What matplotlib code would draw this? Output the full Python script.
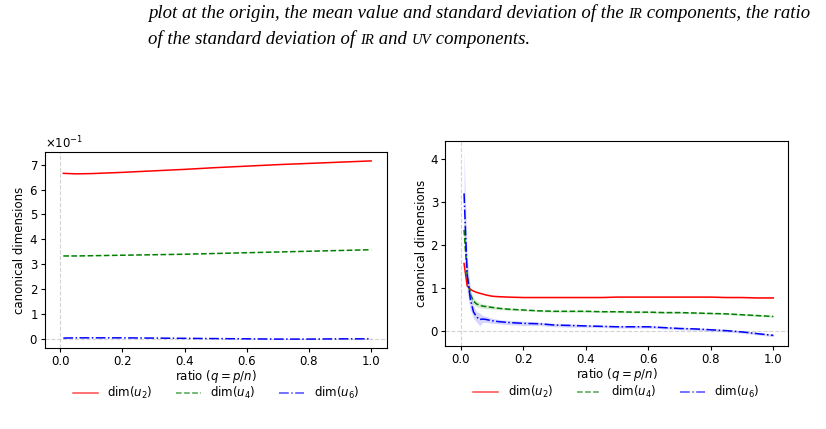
import matplotlib
matplotlib.use("Agg")
import matplotlib.pyplot as plt
import numpy as np

# ---------------- data ----------------
# left panel
q_left = [0.01, 0.05, 0.1, 0.2, 0.3, 0.4, 0.5, 0.6, 0.7, 0.8, 0.9, 1.0]
left_u2 = [0.665, 0.663, 0.664, 0.669, 0.675, 0.681, 0.688, 0.694, 0.700, 0.705, 0.710, 0.715]
left_u4 = [0.333, 0.333, 0.334, 0.336, 0.338, 0.340, 0.343, 0.346, 0.349, 0.352, 0.355, 0.358]
left_u6 = [0.003, 0.004, 0.004, 0.004, 0.003, 0.002, 0.001, 0.000, -0.001, -0.001, 0.000, 0.000]

# right panel
q_right = [0.01, 0.02, 0.03, 0.04, 0.05, 0.06, 0.07, 0.08, 0.10, 0.12, 0.15, 0.20,
           0.25, 0.30, 0.35, 0.40, 0.45, 0.50, 0.55, 0.60, 0.65, 0.70, 0.75, 0.80,
           0.85, 0.90, 0.95, 1.00]
right_u2 = [1.57, 1.05, 0.97, 0.93, 0.90, 0.88, 0.86, 0.84, 0.81, 0.80, 0.79, 0.78,
            0.78, 0.78, 0.78, 0.78, 0.78, 0.79, 0.79, 0.79, 0.79, 0.79, 0.79, 0.79,
            0.78, 0.78, 0.77, 0.77]
right_u2_sd = [0.03, 0.02, 0.015, 0.01, 0.01, 0.01, 0.01, 0.01, 0.01, 0.01, 0.01, 0.01,
               0.01, 0.01, 0.01, 0.01, 0.01, 0.01, 0.01, 0.01, 0.01, 0.01, 0.01, 0.01,
               0.01, 0.01, 0.01, 0.01]
right_u4 = [2.35, 1.30, 0.85, 0.70, 0.63, 0.60, 0.58, 0.57, 0.55, 0.53, 0.51, 0.49,
            0.47, 0.46, 0.46, 0.46, 0.45, 0.45, 0.44, 0.44, 0.43, 0.43, 0.42, 0.41,
            0.40, 0.38, 0.36, 0.34]
right_u4_sd = [0.30, 0.15, 0.10, 0.08, 0.07, 0.06, 0.05, 0.05, 0.04, 0.03, 0.03, 0.02,
               0.02, 0.02, 0.02, 0.02, 0.02, 0.02, 0.02, 0.02, 0.02, 0.02, 0.02, 0.02,
               0.02, 0.02, 0.02, 0.02]
right_u6 = [3.20, 1.30, 0.75, 0.45, 0.33, 0.27, 0.28, 0.27, 0.24, 0.22, 0.20, 0.18,
            0.17, 0.14, 0.13, 0.12, 0.11, 0.10, 0.10, 0.10, 0.08, 0.06, 0.05, 0.03,
            0.01, -0.02, -0.06, -0.10]
right_u6_sd = [1.00, 0.40, 0.25, 0.15, 0.12, 0.15, 0.08, 0.07, 0.06, 0.05, 0.05, 0.05,
               0.04, 0.04, 0.04, 0.03, 0.03, 0.03, 0.03, 0.03, 0.03, 0.03, 0.03, 0.03,
               0.03, 0.03, 0.03, 0.03]

labels = [r"dim($u_2$)", r"dim($u_4$)", r"dim($u_6$)"]
colors = ["red", "green", "blue"]
styles = ["-", "--", "-."]

caption_line1 = [("plot at the origin, the mean value and standard deviation of the ", False),
                 ("ir", True), (" components, the ratio", False)]
caption_line2 = [("of the standard deviation of ", False), ("ir", True), (" and ", False),
                 ("uv", True), (" components.", False)]

# ---------------- figure ----------------
fs = 8.5
plt.rcParams["font.size"] = fs
fig = plt.figure(figsize=(8.26, 4.29), dpi=100)

axL = fig.add_axes([45/826, 1 - 348/429, 342/826, 196/429])
axR = fig.add_axes([445/826, 1 - 346/429, 343/826, 205/429])

for ax in (axL, axR):
    ax.axhline(0, color="lightgray", ls="--", lw=0.8, zorder=0)
    ax.axvline(0, color="lightgray", ls="--", lw=0.8, zorder=0)

for y, c, s, l in zip([left_u2, left_u4, left_u6], colors, styles, labels):
    axL.plot(q_left, y, color=c, ls=s, lw=1.1, label=l)

for y, sd, c, s, l in zip([right_u2, right_u4, right_u6],
                          [right_u2_sd, right_u4_sd, right_u6_sd], colors, styles, labels):
    y = np.array(y); sd = np.array(sd)
    axR.fill_between(q_right, y - sd, y + sd, color=c, alpha=0.16, lw=0)
    axR.plot(q_right, y, color=c, ls=s, lw=1.1, label=l)

axL.set_xlim(-0.049, 1.051)
axR.set_xlim(-0.051, 1.047)
axL.ticklabel_format(axis="y", style="sci", scilimits=(0, 0), useMathText=True)

for ax in (axL, axR):
    ax.set_xticks([0.0, 0.2, 0.4, 0.6, 0.8, 1.0])
    ax.set_xlabel(r"ratio ($q = p/n$)", labelpad=0)
    ax.set_ylabel("canonical dimensions", labelpad=2)
    ax.tick_params(labelsize=fs, length=3, pad=2)
    leg = ax.legend(loc="upper center", bbox_to_anchor=(0.5, -0.135), ncol=3,
                    frameon=False, fontsize=fs, handlelength=2.1, columnspacing=2.0,
                    handletextpad=0.8)
    for h in leg.legend_handles:
        h.set_alpha(0.7)

# ---------------- caption ----------------
fig.canvas.draw()
renderer = fig.canvas.get_renderer()
cap_family = "Liberation Serif"

def draw_line(parts, x0, y0, size):
    x = x0
    for txt, sc in parts:
        t = fig.text(x / 826, 1 - y0 / 429, txt.upper() if sc else txt,
                     fontsize=size * (0.78 if sc else 1),
                     family=cap_family, style="italic", va="baseline")
        x += t.get_window_extent(renderer).width

def line_width(parts, size):
    w = 0
    for txt, sc in parts:
        t = fig.text(0, 0, txt.upper() if sc else txt, fontsize=size * (0.78 if sc else 1),
                     family=cap_family, style="italic")
        w += t.get_window_extent(renderer).width
        t.remove()
    return w

base = 10.0
w = line_width(caption_line1, base)
size = base * 662 / w
draw_line(caption_line1, 148, 18, size)
draw_line(caption_line2, 148, 44, size)

fig.savefig("out.png", dpi=100)
